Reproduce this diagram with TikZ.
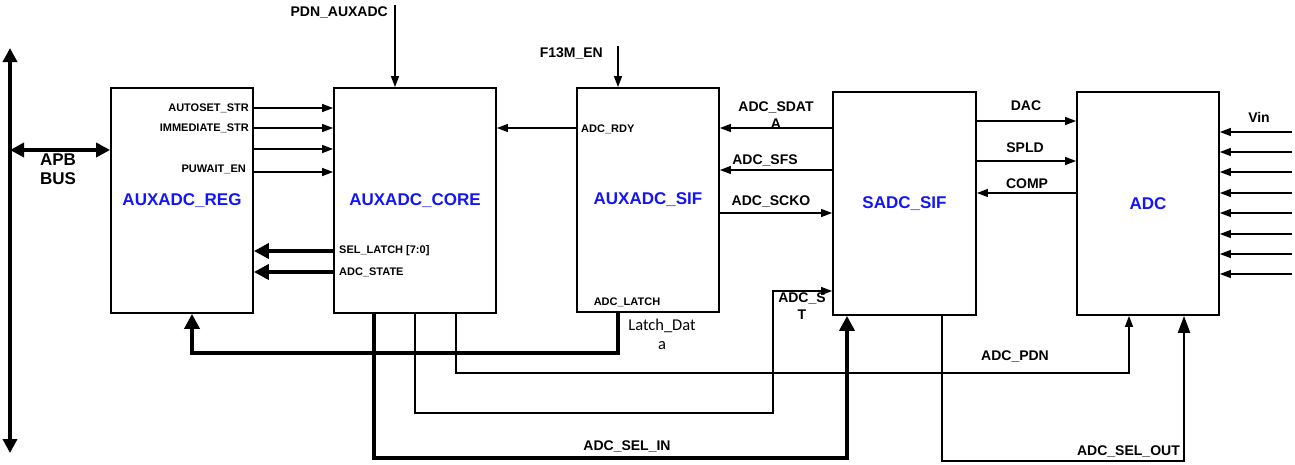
\documentclass[tikz,border=0pt]{standalone}
\usepackage{fontspec}
\setmainfont{Liberation Sans}
\newfontfamily\calib{Carlito}
\usetikzlibrary{arrows.meta,calc}
\definecolor{lblue}{RGB}{20,20,250}
\tikzset{
  box/.style={draw,line width=1.8pt,inner sep=0pt,text=lblue,
    font=\bfseries\fontsize{17}{19}\selectfont},
  sig/.style={line width=1.3pt,-{Triangle[length=11pt,width=8pt]}},
  med/.style={line width=2.2pt,-{Triangle[length=17pt,width=12pt]}},
  bus/.style={line width=4pt,-{Triangle[length=15pt,width=15pt]}},
  apb/.style={line width=4pt,{Triangle[length=14pt,width=14pt]}-{Triangle[length=14pt,width=14pt]}},
  lab/.style={inner sep=0pt,font=\bfseries\fontsize{14}{15}\selectfont},
  slab/.style={inner sep=0pt,font=\bfseries\fontsize{11}{12}\selectfont},
  blab/.style={inner sep=0pt,font=\bfseries\fontsize{17}{18}\selectfont},
  clab/.style={inner sep=0pt,font=\calib\fontsize{16.5}{18}\selectfont}
}
\begin{document}
\begin{tikzpicture}[x=1pt,y=-1pt]
\useasboundingbox (0,0) rectangle (1295,464);
% blocks
\node[box,minimum width=142pt,minimum height=225pt] (reg)  at (182,200.5) {AUXADC\_REG};
\node[box,minimum width=162pt,minimum height=225pt] (core) at (415,200.5) {AUXADC\_CORE};
\node[box,minimum width=142pt,minimum height=224pt] (sif)  at (648,200) {AUXADC\_SIF};
\node[box,minimum width=143pt,minimum height=223pt] (sadc) at (904.5,203.5) {SADC\_SIF};
\node[box,minimum width=142pt,minimum height=223pt] (adc)  at (1148,203.5) {ADC};
% APB bus
\coordinate (apbtop) at (10,48);
\coordinate (apbbot) at (10,453);
\coordinate (apbj) at (10,150);
\draw[apb] (apbbot) -- (apbtop);
\draw[apb] (apbj) -- (reg.west |- apbj);
\node[blab] (apbl1) at (58,160) {APB};
\node[blab] (apbl2) at (58,179) {BUS};
% PDN_AUXADC
\coordinate (pdn) at (395,5);
\draw[sig] (pdn) -- (pdn |- core.north);
\node[lab,anchor=east] (pdnl) at (388,12) {PDN\_AUXADC};
% F13M_EN
\coordinate (f13) at (618,46);
\draw[sig] (f13) -- (f13 |- sif.north);
\node[lab,anchor=east] (f13l) at (603,53) {F13M\_EN};
% REG -> CORE
\foreach \yy in {108,128,149,172}
  \draw[sig] (reg.east |- 0,\yy) -- (core.west |- 0,\yy);
\node[slab,anchor=east] (l1) at (249,108) {AUTOSET\_STR};
\node[slab,anchor=east] (l2) at (249,128) {IMMEDIATE\_STR};
\node[slab,anchor=east] (l3) at (246,169) {PUWAIT\_EN};
% CORE -> REG thick
\draw[bus] (core.west |- 0,251) -- (reg.east |- 0,251);
\draw[bus] (core.west |- 0,272) -- (reg.east |- 0,272);
\node[slab,anchor=west] (l4) at (339,251) {SEL\_LATCH [7:0]};
\node[slab,anchor=west] (l5) at (339,272) {ADC\_STATE};
% SIF -> CORE
\draw[sig] (sif.west |- 0,128) -- (core.east |- 0,128);
\node[slab,anchor=west] (l6) at (581,129) {ADC\_RDY};
% SADC <-> SIF
\draw[sig] (sadc.west |- 0,128) -- (sif.east |- 0,128);
\node[lab] (l7a) at (776,107) {ADC\_SDAT};
\node[lab] (l7b) at (776,124) {A};
\draw[sig] (sadc.west |- 0,170) -- (sif.east |- 0,170);
\node[lab] (l8) at (765,160) {ADC\_SFS};
\draw[sig] (sif.east |- 0,213) -- (sadc.west |- 0,213);
\node[lab] (l9) at (771,201) {ADC\_SCKO};
% SADC <-> ADC
\draw[sig] (sadc.east |- 0,121) -- (adc.west |- 0,121);
\node[lab] (l10) at (1026,106) {DAC};
\draw[sig] (sadc.east |- 0,161) -- (adc.west |- 0,161);
\node[lab] (l11) at (1025,148) {SPLD};
\draw[sig] (adc.west |- 0,193) -- (sadc.east |- 0,193);
\node[lab] (l12) at (1027,184) {COMP};
% Vin
\foreach \yy in {132,152,172,193,213,234,254,274}
  \draw[sig] (1292,\yy) -- (adc.east |- 0,\yy);
\node[lab] (vin) at (1259,117) {Vin};
% ADC_LATCH -> REG
\draw[bus] (618,0 |- sif.south) -- (618,353) -- (192,353) -- (192,0 |- reg.south);
\node[slab] (l13) at (627,302) {ADC\_LATCH};
\node[clab] (l14a) at (662,326) {Latch\_Dat};
\node[clab] (l14b) at (662,346) {a};
% ADC_SEL_IN
\draw[bus] (374,0 |- core.south) -- (374,458) -- (847,458) -- (847,0 |- sadc.south);
\node[lab] (l15) at (627,446) {ADC\_SEL\_IN};
% ADC_ST
\draw[sig] (415,0 |- core.south) -- (415,413) -- (773,413) -- (773,291) -- (sadc.west |- 0,291);
\node[lab] (l16a) at (802,298) {ADC\_S};
\node[lab] (l16b) at (802,315) {T};
% ADC_PDN
\draw[sig] (456,0 |- core.south) -- (456,373) -- (1129,373) -- (1129,0 |- adc.south);
\node[lab] (l17) at (1015,356) {ADC\_PDN};
% ADC_SEL_OUT
\draw[med] (942,0 |- sadc.south) -- (942,461) -- (1184,461) -- (1184,0 |- adc.south);
\node[lab,anchor=east] (l18) at (1180,451) {ADC\_SEL\_OUT};
\end{tikzpicture}
\end{document}
